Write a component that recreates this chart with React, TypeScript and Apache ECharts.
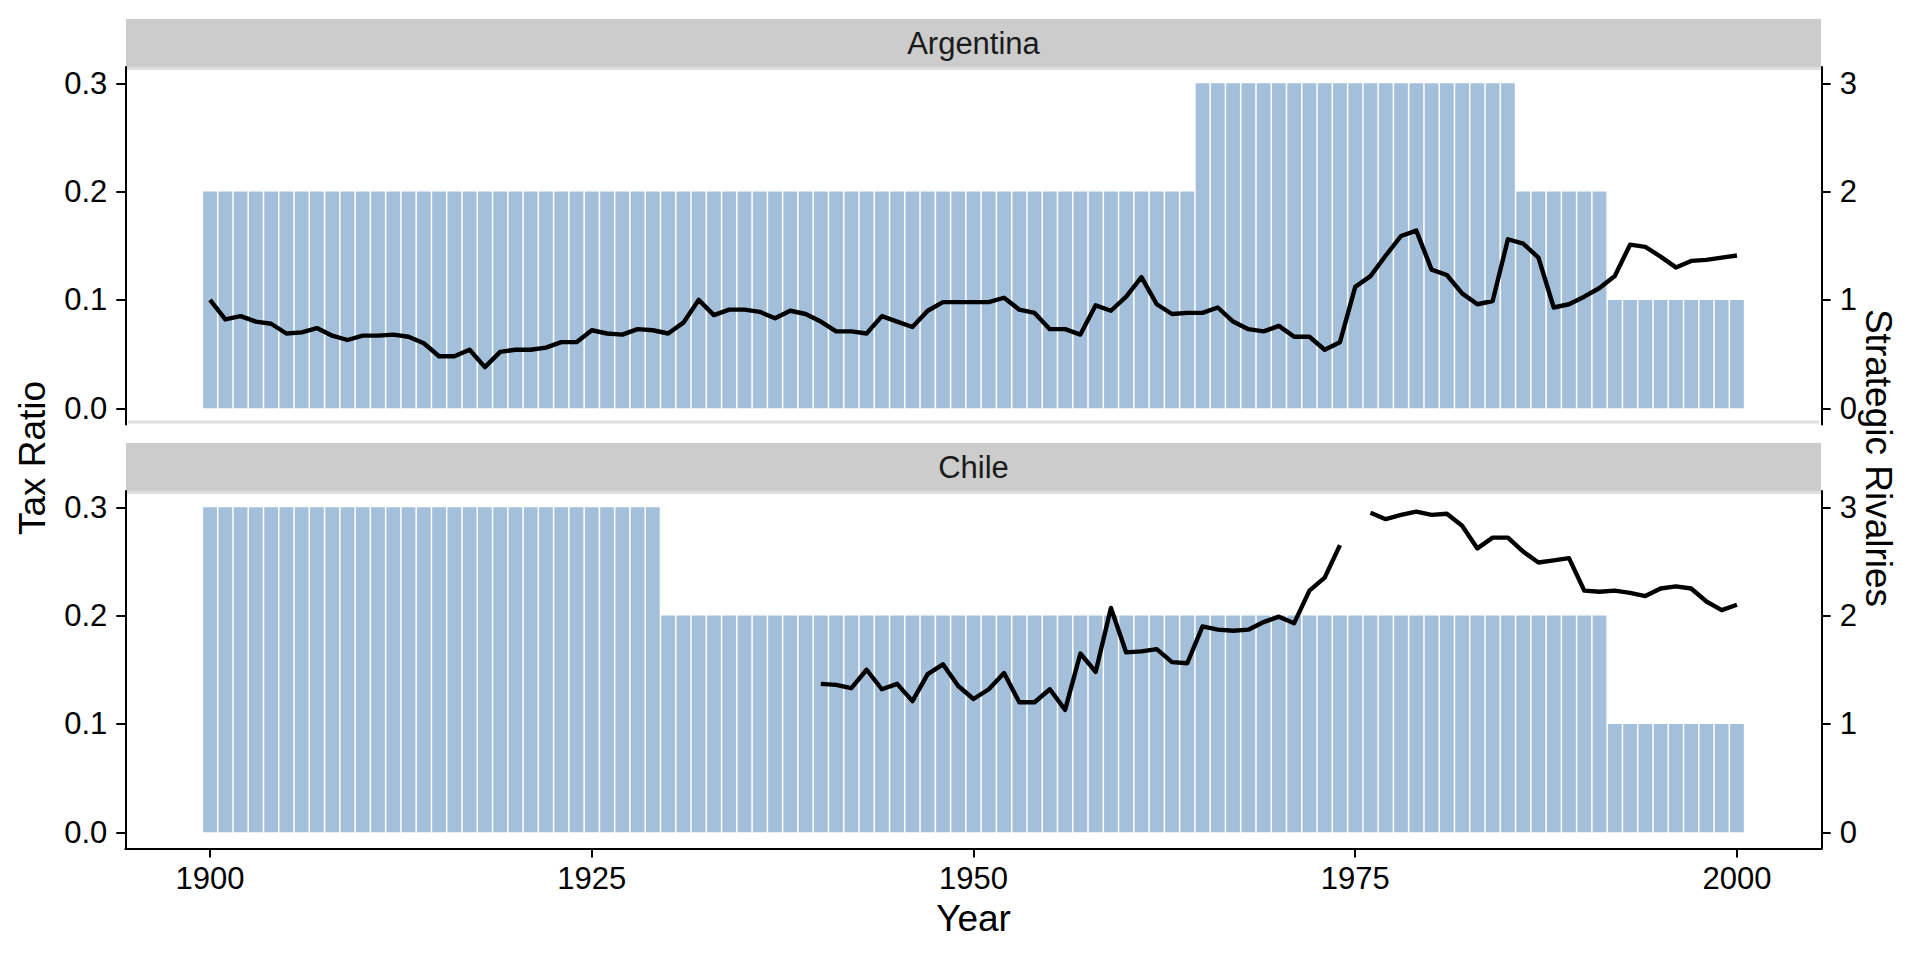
import React, { useEffect, useRef } from "react";
import * as echarts from "echarts";

// ---------- data ----------
const years = [
  1900, 1901, 1902, 1903, 1904, 1905, 1906, 1907, 1908, 1909,
  1910, 1911, 1912, 1913, 1914, 1915, 1916, 1917, 1918, 1919,
  1920, 1921, 1922, 1923, 1924, 1925, 1926, 1927, 1928, 1929,
  1930, 1931, 1932, 1933, 1934, 1935, 1936, 1937, 1938, 1939,
  1940, 1941, 1942, 1943, 1944, 1945, 1946, 1947, 1948, 1949,
  1950, 1951, 1952, 1953, 1954, 1955, 1956, 1957, 1958, 1959,
  1960, 1961, 1962, 1963, 1964, 1965, 1966, 1967, 1968, 1969,
  1970, 1971, 1972, 1973, 1974, 1975, 1976, 1977, 1978, 1979,
  1980, 1981, 1982, 1983, 1984, 1985, 1986, 1987, 1988, 1989,
  1990, 1991, 1992, 1993, 1994, 1995, 1996, 1997, 1998, 1999,
  2000,
];

const countries = ["Argentina", "Chile"];

const argentinaTaxRatio: (number | null)[] = [
  0.100, 0.082, 0.085, 0.080, 0.078, 0.069, 0.070, 0.074, 0.067, 0.063,
  0.067, 0.067, 0.068, 0.066, 0.060, 0.048, 0.048, 0.054, 0.038, 0.052,
  0.054, 0.054, 0.056, 0.061, 0.061, 0.072, 0.069, 0.068, 0.073, 0.072,
  0.069, 0.079, 0.100, 0.086, 0.091, 0.091, 0.089, 0.083, 0.090, 0.087,
  0.080, 0.071, 0.071, 0.069, 0.085, 0.080, 0.075, 0.090, 0.098, 0.098,
  0.098, 0.098, 0.102, 0.091, 0.088, 0.073, 0.073, 0.068, 0.095, 0.090,
  0.103, 0.121, 0.096, 0.087, 0.088, 0.088, 0.093, 0.080, 0.073, 0.071,
  0.076, 0.066, 0.066, 0.054, 0.061, 0.112, 0.122, 0.141, 0.159, 0.164,
  0.128, 0.123, 0.106, 0.096, 0.099, 0.156, 0.152, 0.139, 0.093, 0.096,
  0.103, 0.111, 0.122, 0.151, 0.149, 0.140, 0.130, 0.136, 0.137, 0.139,
  0.141,
];

const chileTaxRatio: (number | null)[] = [
  null, null, null, null, null, null, null, null, null, null,
  null, null, null, null, null, null, null, null, null, null,
  null, null, null, null, null, null, null, null, null, null,
  null, null, null, null, null, null, null, null, null, null,
  0.137, 0.136, 0.133, 0.150, 0.132, 0.137, 0.121, 0.146, 0.155, 0.135,
  0.123, 0.132, 0.147, 0.120, 0.120, 0.132, 0.113, 0.165, 0.148, 0.207,
  0.166, 0.167, 0.169, 0.157, 0.156, 0.190, 0.187, 0.186, 0.187, 0.194,
  0.199, 0.193, 0.223, 0.235, 0.265, null, 0.295, 0.289, 0.293, 0.296,
  0.293, 0.294, 0.283, 0.262, 0.272, 0.272, 0.259, 0.249, 0.251, 0.253,
  0.223, 0.222, 0.223, 0.221, 0.218, 0.225, 0.227, 0.225, 0.213, 0.205,
  0.210,
];

const argentinaRivalries = [
  2, 2, 2, 2, 2, 2, 2, 2, 2, 2,
  2, 2, 2, 2, 2, 2, 2, 2, 2, 2,
  2, 2, 2, 2, 2, 2, 2, 2, 2, 2,
  2, 2, 2, 2, 2, 2, 2, 2, 2, 2,
  2, 2, 2, 2, 2, 2, 2, 2, 2, 2,
  2, 2, 2, 2, 2, 2, 2, 2, 2, 2,
  2, 2, 2, 2, 2, 3, 3, 3, 3, 3,
  3, 3, 3, 3, 3, 3, 3, 3, 3, 3,
  3, 3, 3, 3, 3, 3, 2, 2, 2, 2,
  2, 2, 1, 1, 1, 1, 1, 1, 1, 1,
  1,
];

const chileRivalries = [
  3, 3, 3, 3, 3, 3, 3, 3, 3, 3,
  3, 3, 3, 3, 3, 3, 3, 3, 3, 3,
  3, 3, 3, 3, 3, 3, 3, 3, 3, 3,
  2, 2, 2, 2, 2, 2, 2, 2, 2, 2,
  2, 2, 2, 2, 2, 2, 2, 2, 2, 2,
  2, 2, 2, 2, 2, 2, 2, 2, 2, 2,
  2, 2, 2, 2, 2, 2, 2, 2, 2, 2,
  2, 2, 2, 2, 2, 2, 2, 2, 2, 2,
  2, 2, 2, 2, 2, 2, 2, 2, 2, 2,
  2, 2, 1, 1, 1, 1, 1, 1, 1, 1,
  1,
];

const xTicks = [1900, 1925, 1950, 1975, 2000];
const leftTicks = [0, 0.1, 0.2, 0.3];
const rightTicks = [0, 1, 2, 3];

// ---------- layout / style ----------
const W = 1920;
const H = 960;
const FONT = "'Liberation Sans', Arial, Helvetica, sans-serif";
const GRID_LEFT = 125.3;
const GRID_RIGHT = 98.3;
const X_MIN = 1894.45;
const X_MAX = 2005.55;
const Y_MIN = -0.015;
const Y_MAX = 0.315;
const R_MIN = -0.15;
const R_MAX = 3.15;
const PANELS = [
  { top: 67.0, height: 357.5, stripTop: 19, stripBottom: 67 },
  { top: 491.0, height: 357.5, stripTop: 443, stripBottom: 491 },
];
const BAR_COLOR = "#a3bfd9";
const TICK_FONT = 31;
const TITLE_FONT = 37;
const STRIP_FONT = 31;
const LINE_WIDTH = 4.4;

export default function App() {
  const ref = useRef<HTMLDivElement>(null);

  useEffect(() => {
    if (!ref.current) return;
    const chart = echarts.init(ref.current, undefined, { renderer: "svg" });
    const gridW = W - GRID_LEFT - GRID_RIGHT;
    const barWidth = (0.9 * gridW) / (X_MAX - X_MIN);
    const taxData = [argentinaTaxRatio, chileTaxRatio];
    const rivData = [argentinaRivalries, chileRivalries];
    const plotCenterX = GRID_LEFT + gridW / 2;

    const grids = PANELS.map((p) => ({
      left: GRID_LEFT,
      right: GRID_RIGHT,
      top: p.top,
      height: p.height,
      containLabel: false,
    }));

    const xAxes = PANELS.map((_, i) => ({
      type: "value",
      gridIndex: i,
      min: X_MIN,
      max: X_MAX,
      splitLine: { show: false },
      axisLine: {
        show: i === 1,
        onZero: false,
        lineStyle: { color: "#000", width: 2 },
      },
      axisTick: {
        show: i === 1,
        length: 9,
        customValues: xTicks,
        lineStyle: { color: "#000", width: 2 },
      },
      axisLabel: {
        show: i === 1,
        customValues: xTicks,
        margin: 14,
        color: "#000",
        fontSize: TICK_FONT,
        fontFamily: FONT,
        formatter: (v: number) => String(v),
      },
    }));

    const yAxes: any[] = [];
    PANELS.forEach((_, i) => {
      yAxes.push({
        type: "value",
        gridIndex: i,
        position: "left",
        min: Y_MIN,
        max: Y_MAX,
        splitLine: { show: false },
        axisLine: { show: true, onZero: false, lineStyle: { color: "#000", width: 2 } },
        axisTick: {
          show: true,
          length: 9,
          customValues: leftTicks,
          lineStyle: { color: "#000", width: 2 },
        },
        axisLabel: {
          customValues: leftTicks,
          margin: 18,
          color: "#000",
          fontSize: TICK_FONT,
          fontFamily: FONT,
          formatter: (v: number) => v.toFixed(1),
        },
      });
      yAxes.push({
        type: "value",
        gridIndex: i,
        position: "right",
        min: R_MIN,
        max: R_MAX,
        splitLine: { show: false },
        axisLine: { show: true, onZero: false, lineStyle: { color: "#000", width: 2 } },
        axisTick: {
          show: true,
          length: 9,
          customValues: rightTicks,
          lineStyle: { color: "#000", width: 2 },
        },
        axisLabel: {
          customValues: rightTicks,
          margin: 18,
          color: "#000",
          fontSize: TICK_FONT,
          fontFamily: FONT,
          formatter: (v: number) => String(Math.round(v)),
        },
      });
    });

    const series: any[] = [];
    PANELS.forEach((_, i) => {
      series.push({
        type: "bar",
        name: countries[i] + " rivalries",
        xAxisIndex: i,
        yAxisIndex: i * 2 + 1,
        barWidth,
        itemStyle: { color: BAR_COLOR },
        silent: true,
        z: 1,
        data: years.map((y, k) => [y, rivData[i][k]]),
      });
      series.push({
        type: "line",
        name: countries[i] + " tax ratio",
        xAxisIndex: i,
        yAxisIndex: i * 2,
        showSymbol: false,
        symbol: "none",
        connectNulls: false,
        silent: true,
        z: 5,
        lineStyle: { color: "#000", width: LINE_WIDTH, join: "round" },
        data: years.map((y, k) => [y, taxData[i][k] == null ? "-" : taxData[i][k]]),
      });
    });

    const graphic: any[] = [];
    PANELS.forEach((p, i) => {
      graphic.push({
        type: "rect",
        z: 0,
        silent: true,
        shape: { x: 126, y: p.stripTop, width: 1821 - 126, height: p.stripBottom - p.stripTop },
        style: { fill: "#cccccc" },
      });
      graphic.push({
        type: "line",
        z: 0,
        silent: true,
        shape: { x1: 126, y1: p.stripBottom + 1.5, x2: 1821, y2: p.stripBottom + 1.5 },
        style: { stroke: "#e0e0e0", lineWidth: 3 },
      });
      graphic.push({
        type: "text",
        z: 10,
        silent: true,
        x: plotCenterX,
        y: (p.stripTop + p.stripBottom) / 2,
        style: {
          text: countries[i],
          fill: "#1a1a1a",
          font: `${STRIP_FONT}px ${FONT}`,
          textAlign: "center",
          textVerticalAlign: "middle",
        },
      });
    });
    graphic.push({
      type: "line",
      z: 0,
      silent: true,
      shape: { x1: 128, y1: 422, x2: 1819, y2: 422 },
      style: { stroke: "#e0e0e0", lineWidth: 3 },
    });
    graphic.push({
      type: "text",
      silent: true,
      x: plotCenterX,
      y: 918,
      style: {
        text: "Year",
        fill: "#000",
        font: `${TITLE_FONT}px ${FONT}`,
        textAlign: "center",
        textVerticalAlign: "middle",
      },
    });
    graphic.push({
      type: "text",
      silent: true,
      x: 32,
      y: 458,
      rotation: Math.PI / 2,
      style: {
        text: "Tax Ratio",
        fill: "#000",
        font: `${TITLE_FONT}px ${FONT}`,
        textAlign: "center",
        textVerticalAlign: "middle",
      },
    });
    graphic.push({
      type: "text",
      silent: true,
      x: 1878,
      y: 458,
      rotation: -Math.PI / 2,
      style: {
        text: "Strategic Rivalries",
        fill: "#000",
        font: `${TITLE_FONT}px ${FONT}`,
        textAlign: "center",
        textVerticalAlign: "middle",
      },
    });

    chart.setOption({
      animation: false,
      backgroundColor: "#ffffff",
      textStyle: { fontFamily: FONT },
      grid: grids,
      xAxis: xAxes,
      yAxis: yAxes,
      series,
      graphic,
    });

    return () => chart.dispose();
  }, []);

  return (
    <div
      ref={ref}
      style={{ position: "fixed", left: 0, top: 0, width: W, height: H, background: "#fff" }}
    />
  );
}
